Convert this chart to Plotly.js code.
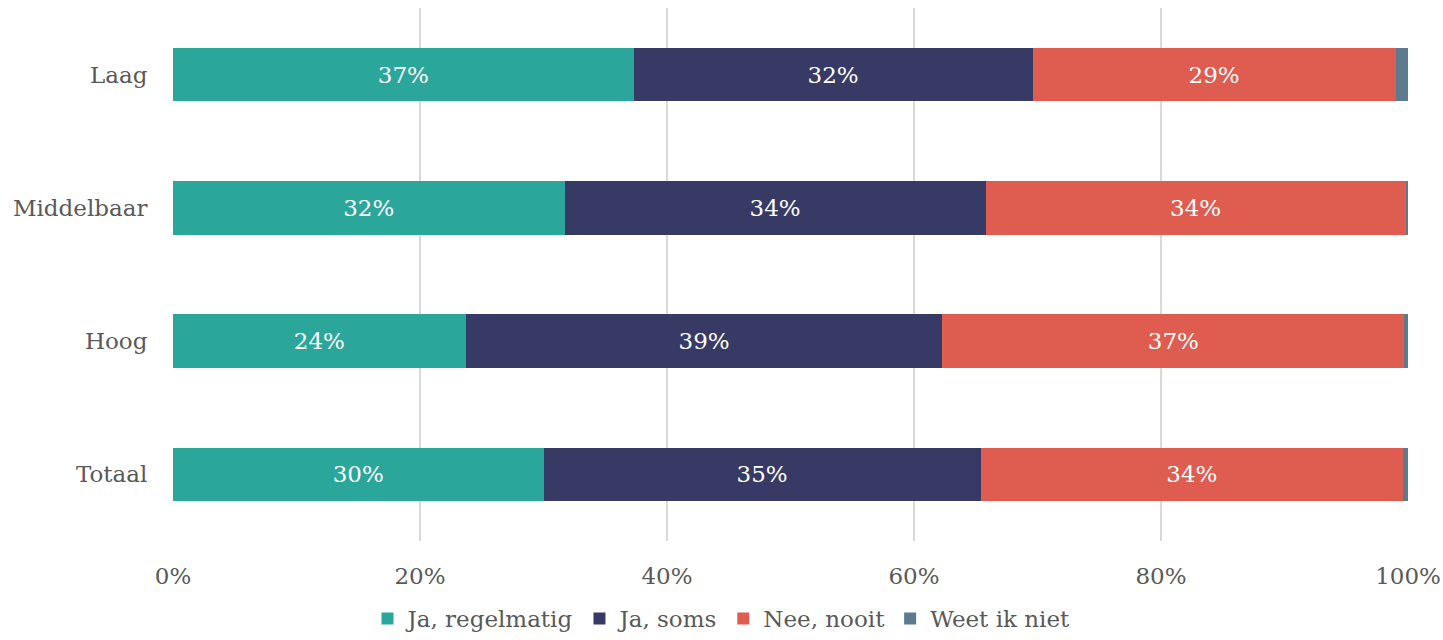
<!DOCTYPE html>
<html>
<head>
<meta charset="utf-8">
<script src="https://cdn.plot.ly/plotly-3.0.1.min.js"></script>
<style>html,body{margin:0;padding:0;background:#fff;}#chart{width:1443px;height:640px;}</style>
</head>
<body>
<div id="chart"></div>
<script>
const categories = ["Laag", "Middelbaar", "Hoog", "Totaal"];
const seriesNames = ["Ja, regelmatig", "Ja, soms", "Nee, nooit", "Weet ik niet"];
const jaRegelmatig = [37.3, 31.7, 23.7, 30.0];
const jaSoms = [32.3, 34.1, 38.6, 35.4];
const neeNooit = [29.4, 34.0, 37.4, 34.2];
const weetIkNiet = [1.0, 0.2, 0.3, 0.4];
const xTickVals = [0, 20, 40, 60, 80, 100];
const xTickText = ["0%", "20%", "40%", "60%", "80%", "100%"];

const colors = ["#2AA69B", "#383A66", "#DE5C50", "#5E7A8E"];
const values = [jaRegelmatig, jaSoms, neeNooit, weetIkNiet];
const FONT = "DejaVu Serif, Liberation Serif, serif";
const FS = 23;

const traces = values.map((v, i) => ({
  type: "bar",
  orientation: "h",
  name: seriesNames[i],
  y: categories,
  x: v,
  marker: {color: colors[i], line: {width: 0}},
  texttemplate: i < 3 ? "%{x:.0f}%" : "",
  textposition: i < 3 ? "inside" : "none",
  insidetextanchor: "middle",
  textfont: {color: "#ffffff", size: FS, family: FONT},
  hoverinfo: "name+x"
}));

const layout = {
  width: 1443,
  height: 640,
  barmode: "stack",
  bargap: 0.6,
  paper_bgcolor: "#ffffff",
  plot_bgcolor: "#ffffff",
  margin: {l: 173, r: 35, t: 8, b: 99},
  font: {family: FONT, color: "#595959", size: FS},
  xaxis: {
    range: [0, 100],
    tickvals: xTickVals,
    ticktext: xTickText,
    showgrid: true,
    gridcolor: "#d9d9d9",
    gridwidth: 1.5,
    zeroline: false,
    showline: false,
    ticks: "outside",
    ticklen: 14,
    tickcolor: "rgba(0,0,0,0)",
    tickfont: {size: FS, color: "#595959", family: FONT},
    fixedrange: true,
    automargin: false
  },
  yaxis: {
    categoryorder: "array",
    categoryarray: categories,
    autorange: "reversed",
    showgrid: false,
    zeroline: false,
    showline: false,
    ticks: "outside",
    ticklen: 20,
    tickcolor: "rgba(0,0,0,0)",
    tickfont: {size: FS, color: "#595959", family: FONT},
    automargin: false
  },
  showlegend: true,
  legend: {
    orientation: "h",
    x: 0.5,
    xref: "container",
    xanchor: "center",
    yref: "container",
    y: 0.0,
    yanchor: "bottom",
    font: {size: FS, color: "#595959", family: FONT},
    traceorder: "normal",
    itemwidth: 20
  }
};

Plotly.newPlot("chart", traces, layout, {displayModeBar: false, staticPlot: true});
</script>
</body>
</html>
